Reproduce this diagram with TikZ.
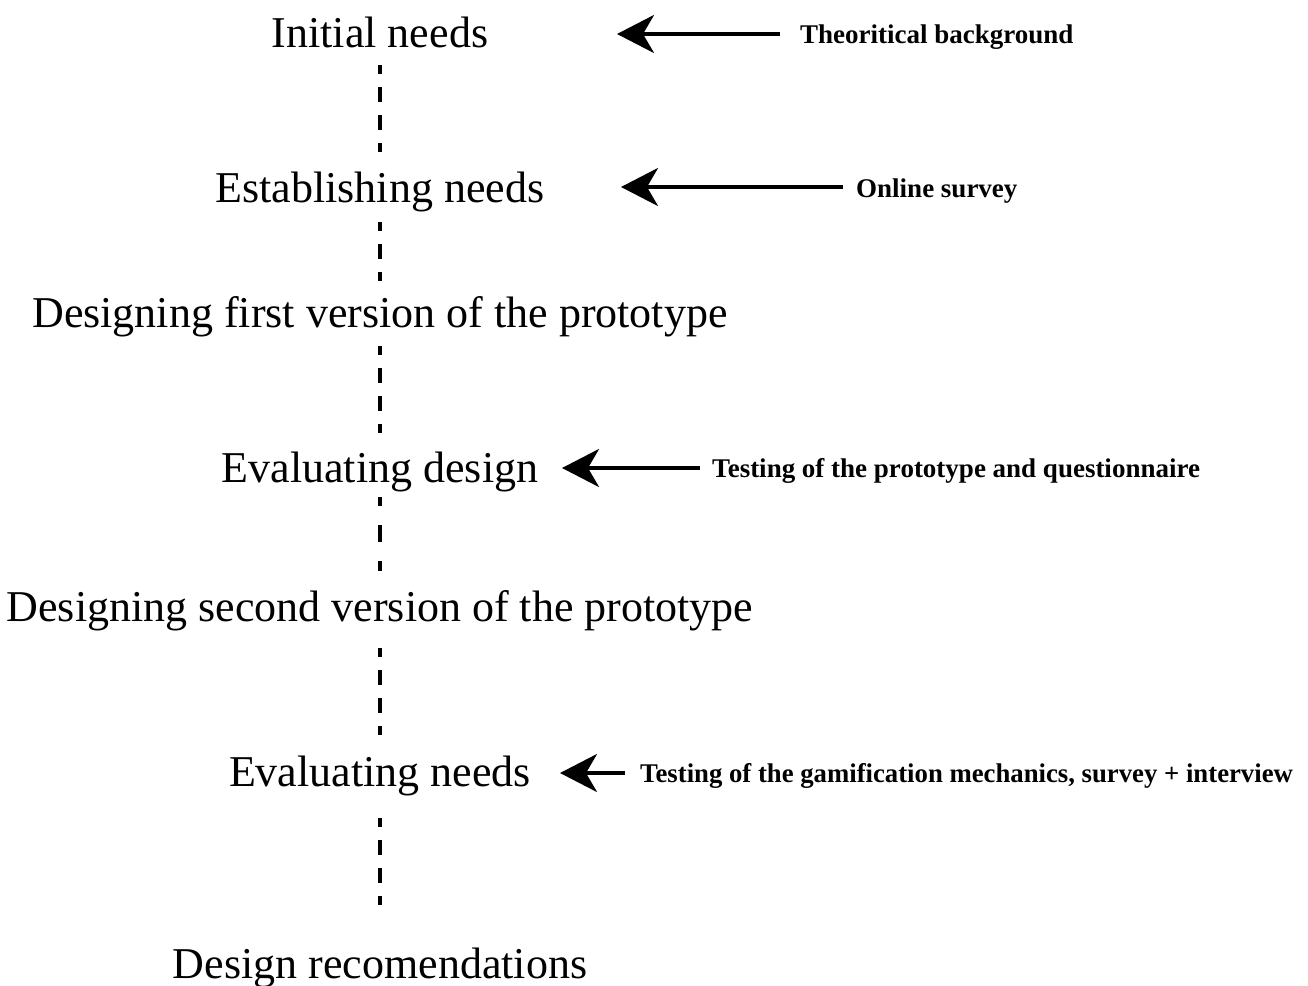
\documentclass[tikz,border=0pt]{standalone}
\usepackage{fontspec}
\setmainfont{Liberation Serif}
\usetikzlibrary{arrows.meta}
\begin{document}
\begin{tikzpicture}[x=1pt,y=-1pt,
  stage/.style={inner sep=0pt,anchor=base,font=\fontsize{44}{50}\selectfont},
  lbl/.style={inner sep=0pt,anchor=base west,font=\fontsize{27}{30}\selectfont\bfseries},
  dashline/.style={line width=4pt,dash pattern=on 15pt off 13pt,dash phase=6pt},
  inarrow/.style={line width=3.5pt,-{Stealth[length=37pt,width=38pt,inset=11pt]}}]
\useasboundingbox (0,0) rectangle (1308,985);
\node[stage] (s1) at (380,47) {Initial needs};
\node[stage] (s2) at (380,202) {Establishing needs};
\node[stage] (s3) at (380,327) {Designing first version of the prototype};
\node[stage] (s4) at (380,482) {Evaluating design};
\node[stage] (s5) at (380,621) {Designing second version of the prototype};
\node[stage] (s6) at (380,786) {Evaluating needs};
\node[stage] (s7) at (380,978) {Design recomendations};
\node[lbl] (l1) at (800,43) {Theoritical background};
\node[lbl] (l2) at (856,197) {Online survey};
\node[lbl] (l4) at (712,477) {Testing of the prototype and questionnaire};
\node[lbl,xscale=0.99] (l6) at (640,782) {Testing of the gamification mechanics, survey + interview};
\coordinate (a1s) at (780,34);  \coordinate (a1e) at (617,34);
\coordinate (a2s) at (843,187); \coordinate (a2e) at (621,187);
\coordinate (a4s) at (700,468); \coordinate (a4e) at (562,468);
\coordinate (a6s) at (625,773); \coordinate (a6e) at (560,773);
\draw[inarrow] (a1s) -- (a1e);
\draw[inarrow] (a2s) -- (a2e);
\draw[inarrow] (a4s) -- (a4e);
\draw[inarrow] (a6s) -- (a6e);
\draw[dashline,shorten <=18pt,shorten >=50pt] (s1.base) -- (s2.base);
\draw[dashline,shorten <=20pt,shorten >=46pt] (s2.base) -- (s3.base);
\draw[dashline,shorten <=19pt,shorten >=49pt] (s3.base) -- (s4.base);
\draw[dashline,dash pattern=on 17pt off 19pt,dash phase=8pt,shorten <=15pt,shorten >=50pt] (s4.base) -- (s5.base);
\draw[dashline,shorten <=27pt,shorten >=51pt] (s5.base) -- (s6.base);
\draw[dashline,shorten <=32pt,shorten >=73pt] (s6.base) -- (s7.base);
\end{tikzpicture}
\end{document}
